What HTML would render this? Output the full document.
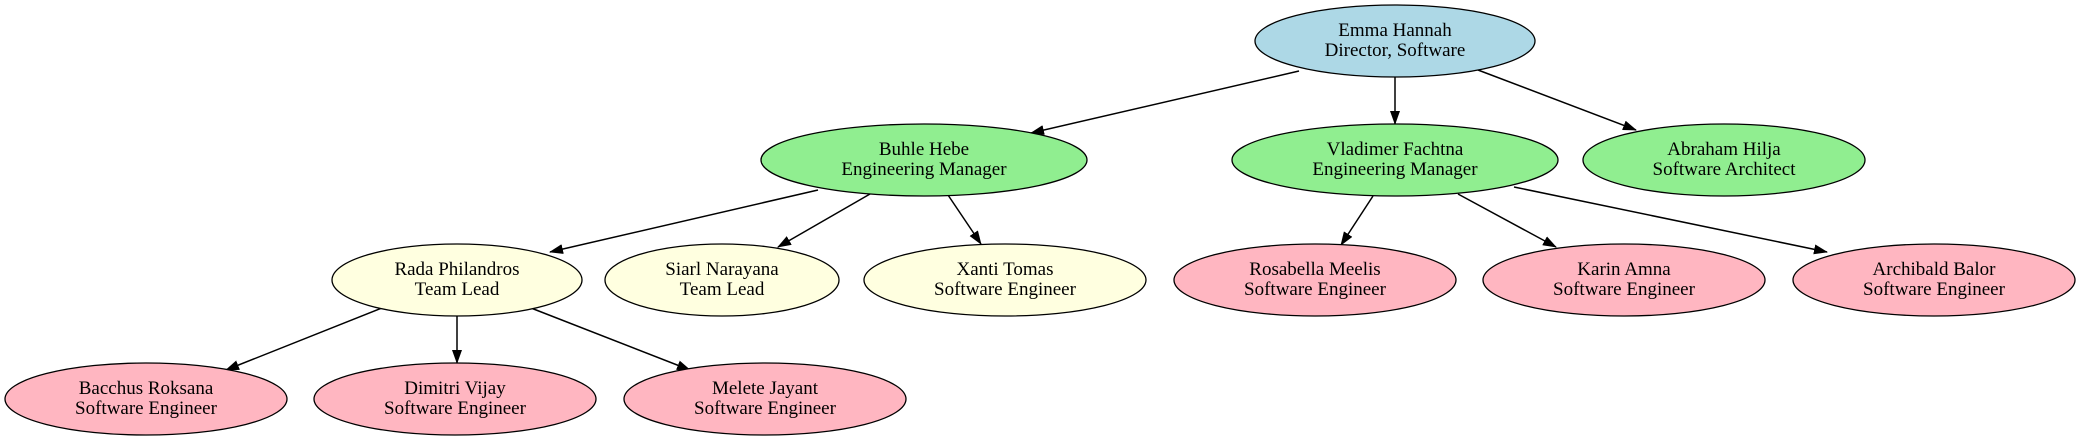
<!DOCTYPE html>
<html><head><meta charset="utf-8"><style>
html,body{margin:0;padding:0;background:#fff;width:2082px;height:441px;overflow:hidden}
text{font-family:"Liberation Serif",serif;font-size:19px;text-anchor:middle;fill:#000}
</style></head><body>
<svg width="2082" height="441" viewBox="0 0 2082 441" xmlns="http://www.w3.org/2000/svg">
<defs><marker id="a" markerWidth="14" markerHeight="10" refX="13" refY="5" orient="auto" markerUnits="userSpaceOnUse"><path d="M0,0 L14,5 L0,10 z" fill="#000"/></marker></defs>
<g stroke="#000" stroke-width="1.5" marker-end="url(#a)">
<line x1="1299" y1="71" x2="1031" y2="133"/>
<line x1="1395" y1="77" x2="1395" y2="124"/>
<line x1="1478" y1="70" x2="1636" y2="130"/>
<line x1="818" y1="190" x2="550" y2="252"/>
<line x1="870" y1="194" x2="778" y2="247"/>
<line x1="948" y1="195" x2="981" y2="244"/>
<line x1="1373" y1="196" x2="1341" y2="245"/>
<line x1="1458" y1="194" x2="1556" y2="247"/>
<line x1="1514" y1="187" x2="1827" y2="252"/>
<line x1="382" y1="308" x2="226" y2="370"/>
<line x1="457" y1="316" x2="457" y2="363"/>
<line x1="531" y1="308" x2="690" y2="370"/>
</g>
<g stroke="#000" stroke-width="1.3">
<ellipse cx="1395" cy="41" rx="140" ry="36" fill="#add8e6"/>
<ellipse cx="924" cy="160" rx="163" ry="36" fill="#90ee90"/>
<ellipse cx="1395" cy="160" rx="163" ry="36" fill="#90ee90"/>
<ellipse cx="1724" cy="160" rx="141" ry="36" fill="#90ee90"/>
<ellipse cx="457" cy="280" rx="125" ry="36" fill="#ffffe0"/>
<ellipse cx="722" cy="280" rx="117" ry="36" fill="#ffffe0"/>
<ellipse cx="1005" cy="280" rx="141" ry="36" fill="#ffffe0"/>
<ellipse cx="1315" cy="280" rx="141" ry="36" fill="#ffb6c1"/>
<ellipse cx="1624" cy="280" rx="141" ry="36" fill="#ffb6c1"/>
<ellipse cx="1934" cy="280" rx="141" ry="36" fill="#ffb6c1"/>
<ellipse cx="146" cy="399" rx="141" ry="36" fill="#ffb6c1"/>
<ellipse cx="455" cy="399" rx="141" ry="36" fill="#ffb6c1"/>
<ellipse cx="765" cy="399" rx="141" ry="36" fill="#ffb6c1"/>
</g>
<text x="1395" y="36">Emma Hannah</text><text x="1395" y="56">Director, Software</text>
<text x="924" y="155">Buhle Hebe</text><text x="924" y="175">Engineering Manager</text>
<text x="1395" y="155">Vladimer Fachtna</text><text x="1395" y="175">Engineering Manager</text>
<text x="1724" y="155">Abraham Hilja</text><text x="1724" y="175">Software Architect</text>
<text x="457" y="275">Rada Philandros</text><text x="457" y="295">Team Lead</text>
<text x="722" y="275">Siarl Narayana</text><text x="722" y="295">Team Lead</text>
<text x="1005" y="275">Xanti Tomas</text><text x="1005" y="295">Software Engineer</text>
<text x="1315" y="275">Rosabella Meelis</text><text x="1315" y="295">Software Engineer</text>
<text x="1624" y="275">Karin Amna</text><text x="1624" y="295">Software Engineer</text>
<text x="1934" y="275">Archibald Balor</text><text x="1934" y="295">Software Engineer</text>
<text x="146" y="394">Bacchus Roksana</text><text x="146" y="414">Software Engineer</text>
<text x="455" y="394">Dimitri Vijay</text><text x="455" y="414">Software Engineer</text>
<text x="765" y="394">Melete Jayant</text><text x="765" y="414">Software Engineer</text>
</svg>
</body></html>
